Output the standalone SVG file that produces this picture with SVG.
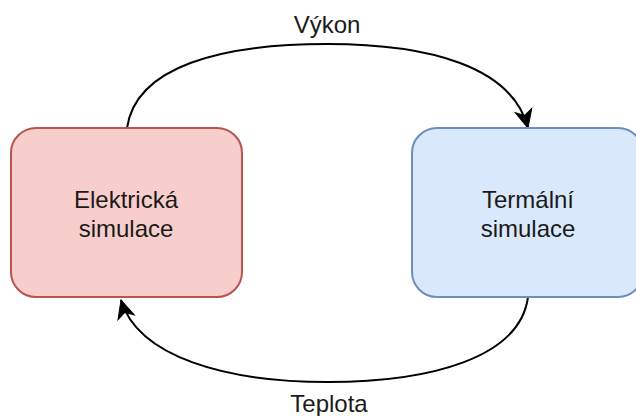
<svg xmlns="http://www.w3.org/2000/svg" width="636" height="416" viewBox="0 0 636 416">
<style>
.lbl{font-family:"Liberation Sans",Arial,sans-serif;font-size:24px;fill:#1a1a1a;text-anchor:middle}
.edge{fill:none;stroke:#000;stroke-width:2}
</style>
<defs>
<marker id="arr" markerUnits="userSpaceOnUse" markerWidth="24" markerHeight="24" refX="18" refY="9" orient="auto" overflow="visible">
<path d="M18,9 L0,0.5 L5,9 L0,17.5 Z" fill="#000" stroke="#000" stroke-width="1"/>
</marker>
</defs>
<rect width="636" height="416" fill="#fff"/>
<g id="connectors">
<path class="edge" d="M127,128 C 136,66 222,44 327,44 C 428,44 512,66 528,128" marker-end="url(#arr)"/>
<path class="edge" d="M528,297 C 520,358 430,382 328,382 C 226,382 138,357 121,300" marker-end="url(#arr)"/>
<text class="lbl" x="327" y="33">Výkon</text>
<text class="lbl" x="329" y="412">Teplota</text>
</g>
<g id="elektricka">
<rect x="11" y="128" width="231" height="169" rx="25" ry="25" fill="#f8cecc" stroke="#b85450" stroke-width="2"/>
<text class="lbl" x="126" y="208">Elektrická</text>
<text class="lbl" x="126" y="237">simulace</text>
</g>
<g id="termalni">
<rect x="412" y="128" width="231" height="169" rx="25" ry="25" fill="#dae8fc" stroke="#6c8ebf" stroke-width="2"/>
<text class="lbl" x="528" y="208">Termální</text>
<text class="lbl" x="528" y="237">simulace</text>
</g>
</svg>
